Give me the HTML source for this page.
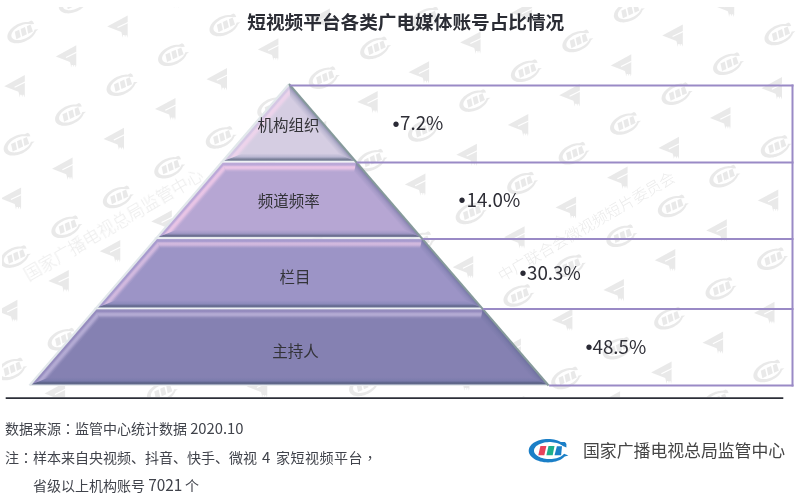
<!DOCTYPE html>
<html><head><meta charset="utf-8">
<style>
html,body{margin:0;padding:0;background:#fff;}
body{width:800px;height:504px;overflow:hidden;position:relative;}
svg{position:absolute;left:0;top:0;text-spacing-trim:space-all;}
</style></head><body>
<svg width="800" height="504" viewBox="0 0 800 504">
<defs><clipPath id="wmclip"><rect x="2.8" y="7.5" width="797.2" height="389"/></clipPath>
<g id="wc" transform="translate(0,1.5) scale(0.8) rotate(-25)" fill="#bfbfbf"><path d="M18.40,-3.30 L18.40,-6.70 L17.00,-8.70 L12.91,-8.69 L11.34,-9.47 L9.65,-10.13 L7.85,-10.69 L5.96,-11.13 L4.01,-11.44 L2.02,-11.64 L0.00,-11.70 L-2.02,-11.64 L-4.01,-11.44 L-5.96,-11.13 L-7.85,-10.69 L-9.65,-10.13 L-11.34,-9.47 L-12.91,-8.69 L-14.34,-7.83 L-15.61,-6.88 L-16.71,-5.85 L-17.63,-4.76 L-18.36,-3.62 L-18.88,-2.43 L-19.19,-1.22 L-19.30,0.00 L-19.19,1.22 L-18.88,2.43 L-18.36,3.62 L-17.63,4.76 L-16.71,5.85 L-15.61,6.88 L-14.34,7.83 L-12.91,8.69 L-11.34,9.47 L-9.65,10.13 L-7.85,10.69 L-5.96,11.13 L-4.01,11.44 L-2.02,11.64 L0.00,11.70 L2.02,11.64 L4.01,11.44 L5.96,11.13 L7.85,10.69 L9.65,10.13 L11.34,9.47 L12.91,8.69 L14.34,7.83 L15.61,6.88 L16.71,5.85 L16.71,5.85 L20.40,4.90 L16.06,3.08 L15.37,3.89 L14.53,4.65 L13.55,5.36 L12.44,6.01 L11.20,6.60 L9.87,7.11 L8.44,7.54 L6.94,7.89 L5.37,8.15 L3.77,8.32 L2.14,8.39 L0.51,8.38 L-1.11,8.27 L-2.70,8.07 L-4.24,7.78 L-5.72,7.41 L-7.12,6.95 L-8.43,6.41 L-9.62,5.80 L-10.69,5.13 L-11.63,4.40 L-12.42,3.63 L-13.06,2.81 L-13.54,1.96 L-13.85,1.08 L-13.99,0.20 L-13.96,-0.69 L-13.76,-1.58 L-13.40,-2.44 L-12.86,-3.28 L-12.17,-4.09 L-11.33,-4.85 L-10.35,-5.56 L-9.24,-6.21 L-8.00,-6.80 L-6.67,-7.31 L-5.24,-7.74 L-3.74,-8.09 L-2.17,-8.35 L-0.57,-8.52 L1.06,-8.59 L2.69,-8.58 L4.31,-8.47 L5.90,-8.27 L7.44,-7.98 L8.92,-7.61 L10.32,-7.15 L11.63,-6.61 L12.82,-6.00 L13.89,-5.33 L14.83,-4.60Z"/><path d="M-7.60,-4.80 L-1.60,-4.80 L-3.70,4.50 L-9.70,4.50Z"/><path d="M0.50,-4.80 L6.50,-4.80 L4.70,4.50 L-1.60,4.50Z"/><path d="M8.90,-4.50 L14.00,-4.50 L13.10,4.50 L6.50,4.50Z"/></g>
<g id="wt" fill="#bfbfbf">
  <path d="M-10.3,0.3 L10.2,-10.8 L10.2,9 L9.7,11.5 L9.1,8.8 L8.2,8.8 L7.6,11 L7,8.8 L5.6,8.8 L5.1,11.5 L4.5,8.2 L3.8,5.8 Z"/>
  <path d="M0,1.4 L10.6,-3.8" stroke="#fff" stroke-width="1.1"/>
</g>
<linearGradient id="b0" x1="321.95" y1="122.70" x2="315.89" y2="127.93" gradientUnits="userSpaceOnUse"><stop offset="0" stop-color="#545c88" stop-opacity="0.55"/><stop offset="0.5" stop-color="#5a6490" stop-opacity="0.2"/><stop offset="1" stop-color="#5a6490" stop-opacity="0"/></linearGradient><linearGradient id="b1" x1="289.00" y1="160.90" x2="289.00" y2="153.40" gradientUnits="userSpaceOnUse"><stop offset="0" stop-color="#7d8ca0" stop-opacity="0.75"/><stop offset="0.22" stop-color="#3a4862" stop-opacity="0.62"/><stop offset="0.55" stop-color="#5a6a98" stop-opacity="0.22"/><stop offset="1" stop-color="#5a6a98" stop-opacity="0"/></linearGradient><linearGradient id="b2" x1="256.05" y1="122.70" x2="263.62" y2="129.23" gradientUnits="userSpaceOnUse"><stop offset="0" stop-color="#ffffff" stop-opacity="0.45"/><stop offset="0.11" stop-color="#d0b8e8" stop-opacity="0.2"/><stop offset="0.25" stop-color="#d0b0ec" stop-opacity="0.22"/><stop offset="0.38" stop-color="#ffd8f2" stop-opacity="0.45"/><stop offset="0.5" stop-color="#ffd8f2" stop-opacity="0.6"/><stop offset="0.64" stop-color="#ffd8f2" stop-opacity="0.51"/><stop offset="0.85" stop-color="#ffd8f2" stop-opacity="0.12"/><stop offset="1" stop-color="#ffd8f2" stop-opacity="0"/></linearGradient><linearGradient id="b3" x1="289.00" y1="162.30" x2="289.00" y2="172.30" gradientUnits="userSpaceOnUse"><stop offset="0" stop-color="#ffffff" stop-opacity="0.45"/><stop offset="0.11" stop-color="#d0b8e8" stop-opacity="0.2"/><stop offset="0.25" stop-color="#d0b0ec" stop-opacity="0.22"/><stop offset="0.38" stop-color="#ffd2ee" stop-opacity="0.54"/><stop offset="0.5" stop-color="#ffd2ee" stop-opacity="0.72"/><stop offset="0.64" stop-color="#ffd2ee" stop-opacity="0.61"/><stop offset="0.85" stop-color="#ffd2ee" stop-opacity="0.14"/><stop offset="1" stop-color="#ffd2ee" stop-opacity="0"/></linearGradient><linearGradient id="b4" x1="388.45" y1="199.80" x2="382.39" y2="205.03" gradientUnits="userSpaceOnUse"><stop offset="0" stop-color="#545c88" stop-opacity="0.55"/><stop offset="0.5" stop-color="#5a6490" stop-opacity="0.2"/><stop offset="1" stop-color="#5a6490" stop-opacity="0"/></linearGradient><linearGradient id="b5" x1="289.00" y1="237.30" x2="289.00" y2="229.80" gradientUnits="userSpaceOnUse"><stop offset="0" stop-color="#7d8ca0" stop-opacity="0.75"/><stop offset="0.22" stop-color="#3a4862" stop-opacity="0.62"/><stop offset="0.55" stop-color="#5a6a98" stop-opacity="0.22"/><stop offset="1" stop-color="#5a6a98" stop-opacity="0"/></linearGradient><linearGradient id="b6" x1="189.55" y1="199.80" x2="197.13" y2="206.33" gradientUnits="userSpaceOnUse"><stop offset="0" stop-color="#ffffff" stop-opacity="0.45"/><stop offset="0.11" stop-color="#d0b8e8" stop-opacity="0.2"/><stop offset="0.25" stop-color="#d0b0ec" stop-opacity="0.22"/><stop offset="0.38" stop-color="#ffd2ee" stop-opacity="0.54"/><stop offset="0.5" stop-color="#ffd2ee" stop-opacity="0.72"/><stop offset="0.64" stop-color="#ffd2ee" stop-opacity="0.61"/><stop offset="0.85" stop-color="#ffd2ee" stop-opacity="0.14"/><stop offset="1" stop-color="#ffd2ee" stop-opacity="0"/></linearGradient><linearGradient id="b7" x1="289.00" y1="238.70" x2="289.00" y2="248.70" gradientUnits="userSpaceOnUse"><stop offset="0" stop-color="#ffffff" stop-opacity="0.45"/><stop offset="0.11" stop-color="#d0b8e8" stop-opacity="0.2"/><stop offset="0.25" stop-color="#d0b0ec" stop-opacity="0.22"/><stop offset="0.38" stop-color="#fcd6f2" stop-opacity="0.43"/><stop offset="0.5" stop-color="#fcd6f2" stop-opacity="0.58"/><stop offset="0.64" stop-color="#fcd6f2" stop-opacity="0.49"/><stop offset="0.85" stop-color="#fcd6f2" stop-opacity="0.12"/><stop offset="1" stop-color="#fcd6f2" stop-opacity="0"/></linearGradient><linearGradient id="b8" x1="451.75" y1="273.20" x2="445.70" y2="278.43" gradientUnits="userSpaceOnUse"><stop offset="0" stop-color="#545c88" stop-opacity="0.55"/><stop offset="0.5" stop-color="#5a6490" stop-opacity="0.2"/><stop offset="1" stop-color="#5a6490" stop-opacity="0"/></linearGradient><linearGradient id="b9" x1="289.00" y1="307.70" x2="289.00" y2="300.20" gradientUnits="userSpaceOnUse"><stop offset="0" stop-color="#7d8ca0" stop-opacity="0.75"/><stop offset="0.22" stop-color="#3a4862" stop-opacity="0.62"/><stop offset="0.55" stop-color="#5a6a98" stop-opacity="0.22"/><stop offset="1" stop-color="#5a6a98" stop-opacity="0"/></linearGradient><linearGradient id="b10" x1="126.25" y1="273.20" x2="133.82" y2="279.73" gradientUnits="userSpaceOnUse"><stop offset="0" stop-color="#ffffff" stop-opacity="0.45"/><stop offset="0.11" stop-color="#d0b8e8" stop-opacity="0.2"/><stop offset="0.25" stop-color="#d0b0ec" stop-opacity="0.22"/><stop offset="0.38" stop-color="#fcd6f2" stop-opacity="0.43"/><stop offset="0.5" stop-color="#fcd6f2" stop-opacity="0.58"/><stop offset="0.64" stop-color="#fcd6f2" stop-opacity="0.49"/><stop offset="0.85" stop-color="#fcd6f2" stop-opacity="0.12"/><stop offset="1" stop-color="#fcd6f2" stop-opacity="0"/></linearGradient><linearGradient id="b11" x1="289.00" y1="309.10" x2="289.00" y2="319.10" gradientUnits="userSpaceOnUse"><stop offset="0" stop-color="#ffffff" stop-opacity="0.45"/><stop offset="0.11" stop-color="#d0b8e8" stop-opacity="0.2"/><stop offset="0.25" stop-color="#d0b0ec" stop-opacity="0.22"/><stop offset="0.38" stop-color="#f0e0ff" stop-opacity="0.34"/><stop offset="0.5" stop-color="#f0e0ff" stop-opacity="0.45"/><stop offset="0.64" stop-color="#f0e0ff" stop-opacity="0.38"/><stop offset="0.85" stop-color="#f0e0ff" stop-opacity="0.09"/><stop offset="1" stop-color="#f0e0ff" stop-opacity="0"/></linearGradient><linearGradient id="b12" x1="515.32" y1="346.90" x2="509.26" y2="352.13" gradientUnits="userSpaceOnUse"><stop offset="0" stop-color="#545c88" stop-opacity="0.55"/><stop offset="0.5" stop-color="#5a6490" stop-opacity="0.2"/><stop offset="1" stop-color="#5a6490" stop-opacity="0"/></linearGradient><linearGradient id="b13" x1="289.00" y1="384.70" x2="289.00" y2="377.20" gradientUnits="userSpaceOnUse"><stop offset="0" stop-color="#7d8ca0" stop-opacity="0.75"/><stop offset="0.22" stop-color="#3a4862" stop-opacity="0.62"/><stop offset="0.55" stop-color="#5a6a98" stop-opacity="0.22"/><stop offset="1" stop-color="#5a6a98" stop-opacity="0"/></linearGradient><linearGradient id="b14" x1="62.68" y1="346.90" x2="70.25" y2="353.43" gradientUnits="userSpaceOnUse"><stop offset="0" stop-color="#ffffff" stop-opacity="0.45"/><stop offset="0.11" stop-color="#d0b8e8" stop-opacity="0.2"/><stop offset="0.25" stop-color="#d0b0ec" stop-opacity="0.22"/><stop offset="0.38" stop-color="#f0e0ff" stop-opacity="0.34"/><stop offset="0.5" stop-color="#f0e0ff" stop-opacity="0.45"/><stop offset="0.64" stop-color="#f0e0ff" stop-opacity="0.38"/><stop offset="0.85" stop-color="#f0e0ff" stop-opacity="0.09"/><stop offset="1" stop-color="#f0e0ff" stop-opacity="0"/></linearGradient></defs>
<g clip-path="url(#wmclip)" opacity="0.34">
<g><use href="#wt" x="18.3" y="-26.5"/><use href="#wt" x="-33.1" y="3.4"/><use href="#wt" x="220.5" y="-33.4"/><use href="#wc" x="124.8" y="-28.6"/><use href="#wt" x="169.0" y="-3.6"/><use href="#wc" x="73.3" y="1.2"/><use href="#wt" x="117.5" y="26.2"/><use href="#wc" x="21.9" y="31.1"/><use href="#wt" x="66.1" y="56.1"/><use href="#wc" x="-29.6" y="60.9"/><use href="#wt" x="14.6" y="85.9"/><use href="#wt" x="-36.9" y="115.7"/><use href="#wc" x="327.0" y="-35.5"/><use href="#wt" x="371.2" y="-10.5"/><use href="#wc" x="275.5" y="-5.7"/><use href="#wt" x="319.7" y="19.3"/><use href="#wc" x="224.0" y="24.1"/><use href="#wt" x="268.2" y="49.1"/><use href="#wc" x="172.6" y="53.9"/><use href="#wt" x="216.8" y="78.9"/><use href="#wc" x="121.1" y="83.8"/><use href="#wt" x="165.3" y="108.8"/><use href="#wc" x="69.6" y="113.6"/><use href="#wt" x="113.8" y="138.6"/><use href="#wc" x="18.2" y="143.4"/><use href="#wt" x="62.4" y="168.4"/><use href="#wc" x="-33.3" y="173.2"/><use href="#wt" x="10.9" y="198.2"/><use href="#wt" x="573.3" y="-17.5"/><use href="#wc" x="477.7" y="-12.6"/><use href="#wt" x="521.9" y="12.4"/><use href="#wc" x="426.2" y="17.2"/><use href="#wt" x="470.4" y="42.2"/><use href="#wc" x="374.7" y="47.0"/><use href="#wt" x="418.9" y="72.0"/><use href="#wc" x="323.3" y="76.8"/><use href="#wt" x="367.5" y="101.8"/><use href="#wc" x="271.8" y="106.6"/><use href="#wt" x="316.0" y="131.6"/><use href="#wc" x="220.3" y="136.5"/><use href="#wt" x="264.5" y="161.5"/><use href="#wc" x="168.8" y="166.3"/><use href="#wt" x="213.1" y="191.3"/><use href="#wc" x="117.4" y="196.1"/><use href="#wt" x="161.6" y="221.1"/><use href="#wc" x="65.9" y="225.9"/><use href="#wt" x="110.1" y="250.9"/><use href="#wc" x="14.4" y="255.7"/><use href="#wt" x="58.6" y="280.7"/><use href="#wc" x="-37.0" y="285.6"/><use href="#wt" x="7.2" y="310.6"/><use href="#wt" x="775.5" y="-24.4"/><use href="#wc" x="679.8" y="-19.6"/><use href="#wt" x="724.0" y="5.4"/><use href="#wc" x="628.4" y="10.2"/><use href="#wt" x="672.6" y="35.2"/><use href="#wc" x="576.9" y="40.1"/><use href="#wt" x="621.1" y="65.1"/><use href="#wc" x="525.4" y="69.9"/><use href="#wt" x="569.6" y="94.9"/><use href="#wc" x="473.9" y="99.7"/><use href="#wt" x="518.1" y="124.7"/><use href="#wc" x="422.5" y="129.5"/><use href="#wt" x="466.7" y="154.5"/><use href="#wc" x="371.0" y="159.3"/><use href="#wt" x="415.2" y="184.3"/><use href="#wc" x="319.5" y="189.2"/><use href="#wt" x="363.7" y="214.2"/><use href="#wc" x="268.1" y="219.0"/><use href="#wt" x="312.3" y="244.0"/><use href="#wc" x="216.6" y="248.8"/><use href="#wt" x="260.8" y="273.8"/><use href="#wc" x="165.1" y="278.6"/><use href="#wt" x="209.3" y="303.6"/><use href="#wc" x="113.7" y="308.4"/><use href="#wt" x="157.9" y="333.4"/><use href="#wc" x="62.2" y="338.3"/><use href="#wt" x="106.4" y="363.3"/><use href="#wc" x="10.7" y="368.1"/><use href="#wt" x="54.9" y="393.1"/><use href="#wt" x="3.5" y="422.9"/><use href="#wc" x="830.5" y="3.3"/><use href="#wc" x="779.0" y="33.1"/><use href="#wt" x="823.2" y="58.1"/><use href="#wc" x="727.6" y="62.9"/><use href="#wt" x="771.8" y="87.9"/><use href="#wc" x="676.1" y="92.8"/><use href="#wt" x="720.3" y="117.8"/><use href="#wc" x="624.6" y="122.6"/><use href="#wt" x="668.8" y="147.6"/><use href="#wc" x="573.2" y="152.4"/><use href="#wt" x="617.4" y="177.4"/><use href="#wc" x="521.7" y="182.2"/><use href="#wt" x="565.9" y="207.2"/><use href="#wc" x="470.2" y="212.0"/><use href="#wt" x="514.4" y="237.0"/><use href="#wc" x="418.8" y="241.9"/><use href="#wt" x="463.0" y="266.9"/><use href="#wc" x="367.3" y="271.7"/><use href="#wt" x="411.5" y="296.7"/><use href="#wc" x="315.8" y="301.5"/><use href="#wt" x="360.0" y="326.5"/><use href="#wc" x="264.4" y="331.3"/><use href="#wt" x="308.6" y="356.3"/><use href="#wc" x="212.9" y="361.1"/><use href="#wt" x="257.1" y="386.1"/><use href="#wc" x="161.4" y="391.0"/><use href="#wt" x="205.6" y="416.0"/><use href="#wc" x="109.9" y="420.8"/><use href="#wc" x="826.8" y="115.6"/><use href="#wc" x="775.3" y="145.5"/><use href="#wt" x="819.5" y="170.5"/><use href="#wc" x="723.9" y="175.3"/><use href="#wt" x="768.1" y="200.3"/><use href="#wc" x="672.4" y="205.1"/><use href="#wt" x="716.6" y="230.1"/><use href="#wc" x="620.9" y="234.9"/><use href="#wt" x="665.1" y="259.9"/><use href="#wc" x="569.5" y="264.7"/><use href="#wt" x="613.7" y="289.7"/><use href="#wc" x="518.0" y="294.6"/><use href="#wt" x="562.2" y="319.6"/><use href="#wc" x="466.5" y="324.4"/><use href="#wt" x="510.7" y="349.4"/><use href="#wc" x="415.0" y="354.2"/><use href="#wt" x="459.2" y="379.2"/><use href="#wc" x="363.6" y="384.0"/><use href="#wt" x="407.8" y="409.0"/><use href="#wc" x="312.1" y="413.8"/><use href="#wt" x="356.3" y="438.8"/><use href="#wc" x="823.1" y="228.0"/><use href="#wc" x="771.6" y="257.8"/><use href="#wt" x="815.8" y="282.8"/><use href="#wc" x="720.1" y="287.6"/><use href="#wt" x="764.3" y="312.6"/><use href="#wc" x="668.7" y="317.4"/><use href="#wt" x="712.9" y="342.4"/><use href="#wc" x="617.2" y="347.3"/><use href="#wt" x="661.4" y="372.3"/><use href="#wc" x="565.7" y="377.1"/><use href="#wt" x="609.9" y="402.1"/><use href="#wc" x="514.3" y="406.9"/><use href="#wt" x="558.5" y="431.9"/><use href="#wc" x="462.8" y="436.7"/><use href="#wc" x="819.4" y="340.3"/><use href="#wc" x="767.9" y="370.1"/><use href="#wt" x="812.1" y="395.1"/><use href="#wc" x="716.4" y="400.0"/><use href="#wt" x="760.6" y="425.0"/><use href="#wc" x="664.9" y="429.8"/></g>
<g font-family="Noto Sans CJK SC, sans-serif" fill="#c4c4c4" font-weight="300">
<text transform="translate(28.5,281.2) rotate(-30.2)" font-size="17">国家广播电视总局监管中心</text>
<text transform="translate(502.2,282) rotate(-30.2)" font-size="15.5">中广联合会微视频短片委员会</text>
</g>
</g>
<polygon points="289.00,84.50 354.89,160.90 223.10,160.90" fill="#d5cde2"/><polygon points="289.00,84.50 354.89,160.90 337.86,153.40 290.32,98.28" fill="url(#b0)"/><polygon points="354.89,160.90 223.10,160.90 242.78,153.40 337.86,153.40" fill="url(#b1)"/><polygon points="223.10,160.90 289.00,84.50 290.32,98.28 242.78,153.40" fill="url(#b2)"/><polygon points="221.90,162.30 356.10,162.30 420.79,237.30 157.21,237.30" fill="#b6a6d3"/><polygon points="221.90,162.30 356.10,162.30 354.16,172.30 226.48,172.30" fill="url(#b3)"/><polygon points="356.10,162.30 420.79,237.30 403.76,229.80 354.16,172.30" fill="url(#b4)"/><polygon points="420.79,237.30 157.21,237.30 176.88,229.80 403.76,229.80" fill="url(#b5)"/><polygon points="157.21,237.30 221.90,162.30 226.48,172.30 176.88,229.80" fill="url(#b6)"/><polygon points="156.00,238.70 422.00,238.70 481.51,307.70 96.49,307.70" fill="#9c94c6"/><polygon points="156.00,238.70 422.00,238.70 420.06,248.70 160.58,248.70" fill="url(#b7)"/><polygon points="422.00,238.70 481.51,307.70 464.48,300.20 420.06,248.70" fill="url(#b8)"/><polygon points="481.51,307.70 96.49,307.70 116.16,300.20 464.48,300.20" fill="url(#b9)"/><polygon points="96.49,307.70 156.00,238.70 160.58,248.70 116.16,300.20" fill="url(#b10)"/><polygon points="95.28,309.10 482.72,309.10 547.92,384.70 30.08,384.70" fill="#8581b2"/><polygon points="95.28,309.10 482.72,309.10 480.78,319.10 99.86,319.10" fill="url(#b11)"/><polygon points="482.72,309.10 547.92,384.70 530.89,377.20 480.78,319.10" fill="url(#b12)"/><polygon points="547.92,384.70 30.08,384.70 49.75,377.20 530.89,377.20" fill="url(#b13)"/><polygon points="30.08,384.70 95.28,309.10 99.86,319.10 49.75,377.20" fill="url(#b14)"/>
<rect x="220.5" y="160.90" width="137.0" height="1.40" fill="#eef1f3"/><rect x="154.6" y="237.30" width="268.8" height="1.40" fill="#eef1f3"/><rect x="93.9" y="307.70" width="390.2" height="1.40" fill="#eef1f3"/>
<line x1="289.0" y1="84.0" x2="29.39" y2="385.5" stroke="#e2e8eb" stroke-width="2.2" transform="translate(0.1,0)"/><line x1="30.08" y1="385.3" x2="547.92" y2="385.3" stroke="#e6eaec" stroke-width="1.2"/><line x1="289.0" y1="84.0" x2="548.61" y2="385.5" stroke="#869a9b" stroke-width="2.0"/>
<line x1="290.0" y1="85.5" x2="793.5" y2="85.5" stroke="#9a8ac6" stroke-width="2"/><line x1="356.7" y1="162.4" x2="793.5" y2="162.4" stroke="#9a8ac6" stroke-width="2"/><line x1="422.8" y1="239.0" x2="793.5" y2="239.0" stroke="#9a8ac6" stroke-width="2"/><line x1="483.1" y1="309.0" x2="793.5" y2="309.0" stroke="#9a8ac6" stroke-width="2"/><line x1="549.1" y1="385.5" x2="793.5" y2="385.5" stroke="#9a8ac6" stroke-width="2"/><line x1="792.5" y1="84.5" x2="792.5" y2="386.5" stroke="#9a8ac6" stroke-width="2"/>
<line x1="5.7" y1="398.2" x2="783.3" y2="398.2" stroke="#2c2f38" stroke-width="1.8"/>
<g font-family="Noto Sans CJK SC, sans-serif" fill="#333338">
<text x="405.8" y="29.3" font-size="18.65" font-weight="bold" text-anchor="middle" fill="#2b2d35">短视频平台各类广电媒体账号占比情况</text>
<text x="288.6" y="130.5" font-size="15.5" text-anchor="middle">机构组织</text>
<text x="288.7" y="207" font-size="15.5" text-anchor="middle">频道频率</text>
<text x="294.9" y="283.3" font-size="15.5" text-anchor="middle">栏目</text>
<text x="295.5" y="356.7" font-size="15.5" text-anchor="middle">主持人</text>
</g>
<g font-family="Noto Sans CJK SC, sans-serif" fill="#2e2e36" font-size="18.8">
<text x="400" y="129.5">7.2%</text>
<text x="466.5" y="206.5">14.0%</text>
<text x="527" y="280">30.3%</text>
<text x="592.5" y="353.5">48.5%</text>
</g>
<g font-family="Liberation Sans, sans-serif" fill="#2a2a35" font-size="20">
<text x="392.5" y="130.5">•</text>
<text x="458.5" y="206.8">•</text>
<text x="519.5" y="280.4">•</text>
<text x="585.5" y="354.3">•</text>
</g>
<g font-family="Noto Sans CJK SC, sans-serif" fill="#40434b" font-size="14">
<text x="5" y="434">数据来源<tspan font-family="Noto Sans CJK TC">：</tspan>监管中心统计数据 <tspan font-size="14.8">2020.10</tspan></text>
<text x="5" y="462.5">注<tspan font-family="Noto Sans CJK TC">：</tspan>样本来自央视频、抖音、快手、微视<tspan x="262" font-size="15">4</tspan><tspan x="276" letter-spacing="0.5">家短视频平台</tspan><tspan font-family="Noto Sans CJK TC">，</tspan></text>
<text x="33" y="491">省级以上机构账号 <tspan font-size="15.4">7021</tspan><tspan x="185">个</tspan></text>
</g>
<g transform="translate(548.0,450.7)"><path d="M18.40,-3.30 L18.40,-6.70 L17.00,-8.70 L12.91,-8.69 L11.34,-9.47 L9.65,-10.13 L7.85,-10.69 L5.96,-11.13 L4.01,-11.44 L2.02,-11.64 L0.00,-11.70 L-2.02,-11.64 L-4.01,-11.44 L-5.96,-11.13 L-7.85,-10.69 L-9.65,-10.13 L-11.34,-9.47 L-12.91,-8.69 L-14.34,-7.83 L-15.61,-6.88 L-16.71,-5.85 L-17.63,-4.76 L-18.36,-3.62 L-18.88,-2.43 L-19.19,-1.22 L-19.30,0.00 L-19.19,1.22 L-18.88,2.43 L-18.36,3.62 L-17.63,4.76 L-16.71,5.85 L-15.61,6.88 L-14.34,7.83 L-12.91,8.69 L-11.34,9.47 L-9.65,10.13 L-7.85,10.69 L-5.96,11.13 L-4.01,11.44 L-2.02,11.64 L0.00,11.70 L2.02,11.64 L4.01,11.44 L5.96,11.13 L7.85,10.69 L9.65,10.13 L11.34,9.47 L12.91,8.69 L14.34,7.83 L15.61,6.88 L16.71,5.85 L16.71,5.85 L20.40,4.90 L16.06,3.08 L15.37,3.89 L14.53,4.65 L13.55,5.36 L12.44,6.01 L11.20,6.60 L9.87,7.11 L8.44,7.54 L6.94,7.89 L5.37,8.15 L3.77,8.32 L2.14,8.39 L0.51,8.38 L-1.11,8.27 L-2.70,8.07 L-4.24,7.78 L-5.72,7.41 L-7.12,6.95 L-8.43,6.41 L-9.62,5.80 L-10.69,5.13 L-11.63,4.40 L-12.42,3.63 L-13.06,2.81 L-13.54,1.96 L-13.85,1.08 L-13.99,0.20 L-13.96,-0.69 L-13.76,-1.58 L-13.40,-2.44 L-12.86,-3.28 L-12.17,-4.09 L-11.33,-4.85 L-10.35,-5.56 L-9.24,-6.21 L-8.00,-6.80 L-6.67,-7.31 L-5.24,-7.74 L-3.74,-8.09 L-2.17,-8.35 L-0.57,-8.52 L1.06,-8.59 L2.69,-8.58 L4.31,-8.47 L5.90,-8.27 L7.44,-7.98 L8.92,-7.61 L10.32,-7.15 L11.63,-6.61 L12.82,-6.00 L13.89,-5.33 L14.83,-4.60Z" fill="#1b7fc7"/><path d="M-7.60,-4.80 L-1.60,-4.80 L-3.70,4.50 L-9.70,4.50Z" fill="#e8425b"/><path d="M0.50,-4.80 L6.50,-4.80 L4.70,4.50 L-1.60,4.50Z" fill="#1fae8b"/><path d="M8.90,-4.50 L14.00,-4.50 L13.10,4.50 L6.50,4.50Z" fill="#1b7fc7"/></g>
<text x="583" y="457" font-family="Noto Sans CJK SC, sans-serif" font-size="16.85" fill="#444">国家广播电视总局监管中心</text>
</svg>
</body></html>
